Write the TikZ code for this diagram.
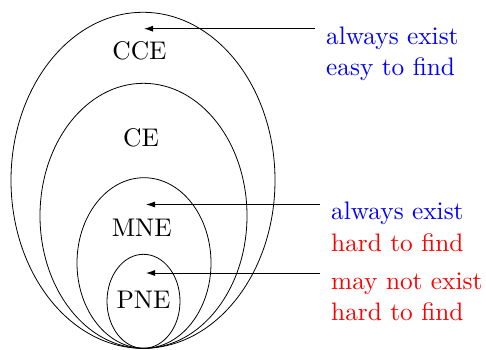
\documentclass[tikz,border=0pt]{standalone}
\usepackage{fontspec}
\setmainfont{lmroman10-regular}[Extension=.otf]
\usetikzlibrary{arrows.meta}
\definecolor{lblue}{RGB}{0,0,255}
\definecolor{lred}{RGB}{255,0,0}
\tikzset{
  setline/.style={line width=0.8pt},
  setlabel/.style={inner sep=0pt, font=\fontsize{25.5}{30}\selectfont},
  note/.style={inner sep=0pt, anchor=base west, font=\fontsize{25.3}{30}\selectfont},
  pointer/.style={line width=0.8pt, -{Latex[length=9pt,width=6pt]}}
}
\begin{document}
\begin{tikzpicture}[x=1pt,y=-1pt]
\useasboundingbox (0,0) rectangle (486,349);
\draw[setline] (143,180.3) ellipse [x radius=132pt, y radius=168pt];
\draw[setline] (143.5,215.8) ellipse [x radius=103.5pt, y radius=132.5pt];
\draw[setline] (144,263) ellipse [x radius=67pt, y radius=85.3pt];
\draw[setline] (143.5,301.3) ellipse [x radius=36.5pt, y radius=47pt];
\node[setlabel] (cce) at (139.5,51) {CCE};
\node[setlabel] (ce) at (141,137.5) {CE};
\node[setlabel] (mne) at (141.7,227.5) {MNE};
\node[setlabel] (pne) at (143.5,300) {PNE};
\node[note, text=lblue] (t1a) at (326,44) {always exist};
\node[note, text=lblue] (t1b) at (326,75) {easy to find};
\node[note, text=lblue] (t2a) at (331,219.5) {always exist};
\node[note, text=lred] (t2b) at (331,251) {hard to find};
\node[note, text=lred] (t3a) at (331,289) {may not exist};
\node[note, text=lred] (t3b) at (331,320.5) {hard to find};
\coordinate (s1) at (315,28.7);
\coordinate (e1) at (144,28.7);
\coordinate (s2) at (320,204.5);
\coordinate (e2) at (146,204.5);
\coordinate (s3) at (320,273);
\coordinate (e3) at (146,273);
\draw[pointer] (s1) -- (e1);
\draw[pointer] (s2) -- (e2);
\draw[pointer] (s3) -- (e3);
\end{tikzpicture}
\end{document}
